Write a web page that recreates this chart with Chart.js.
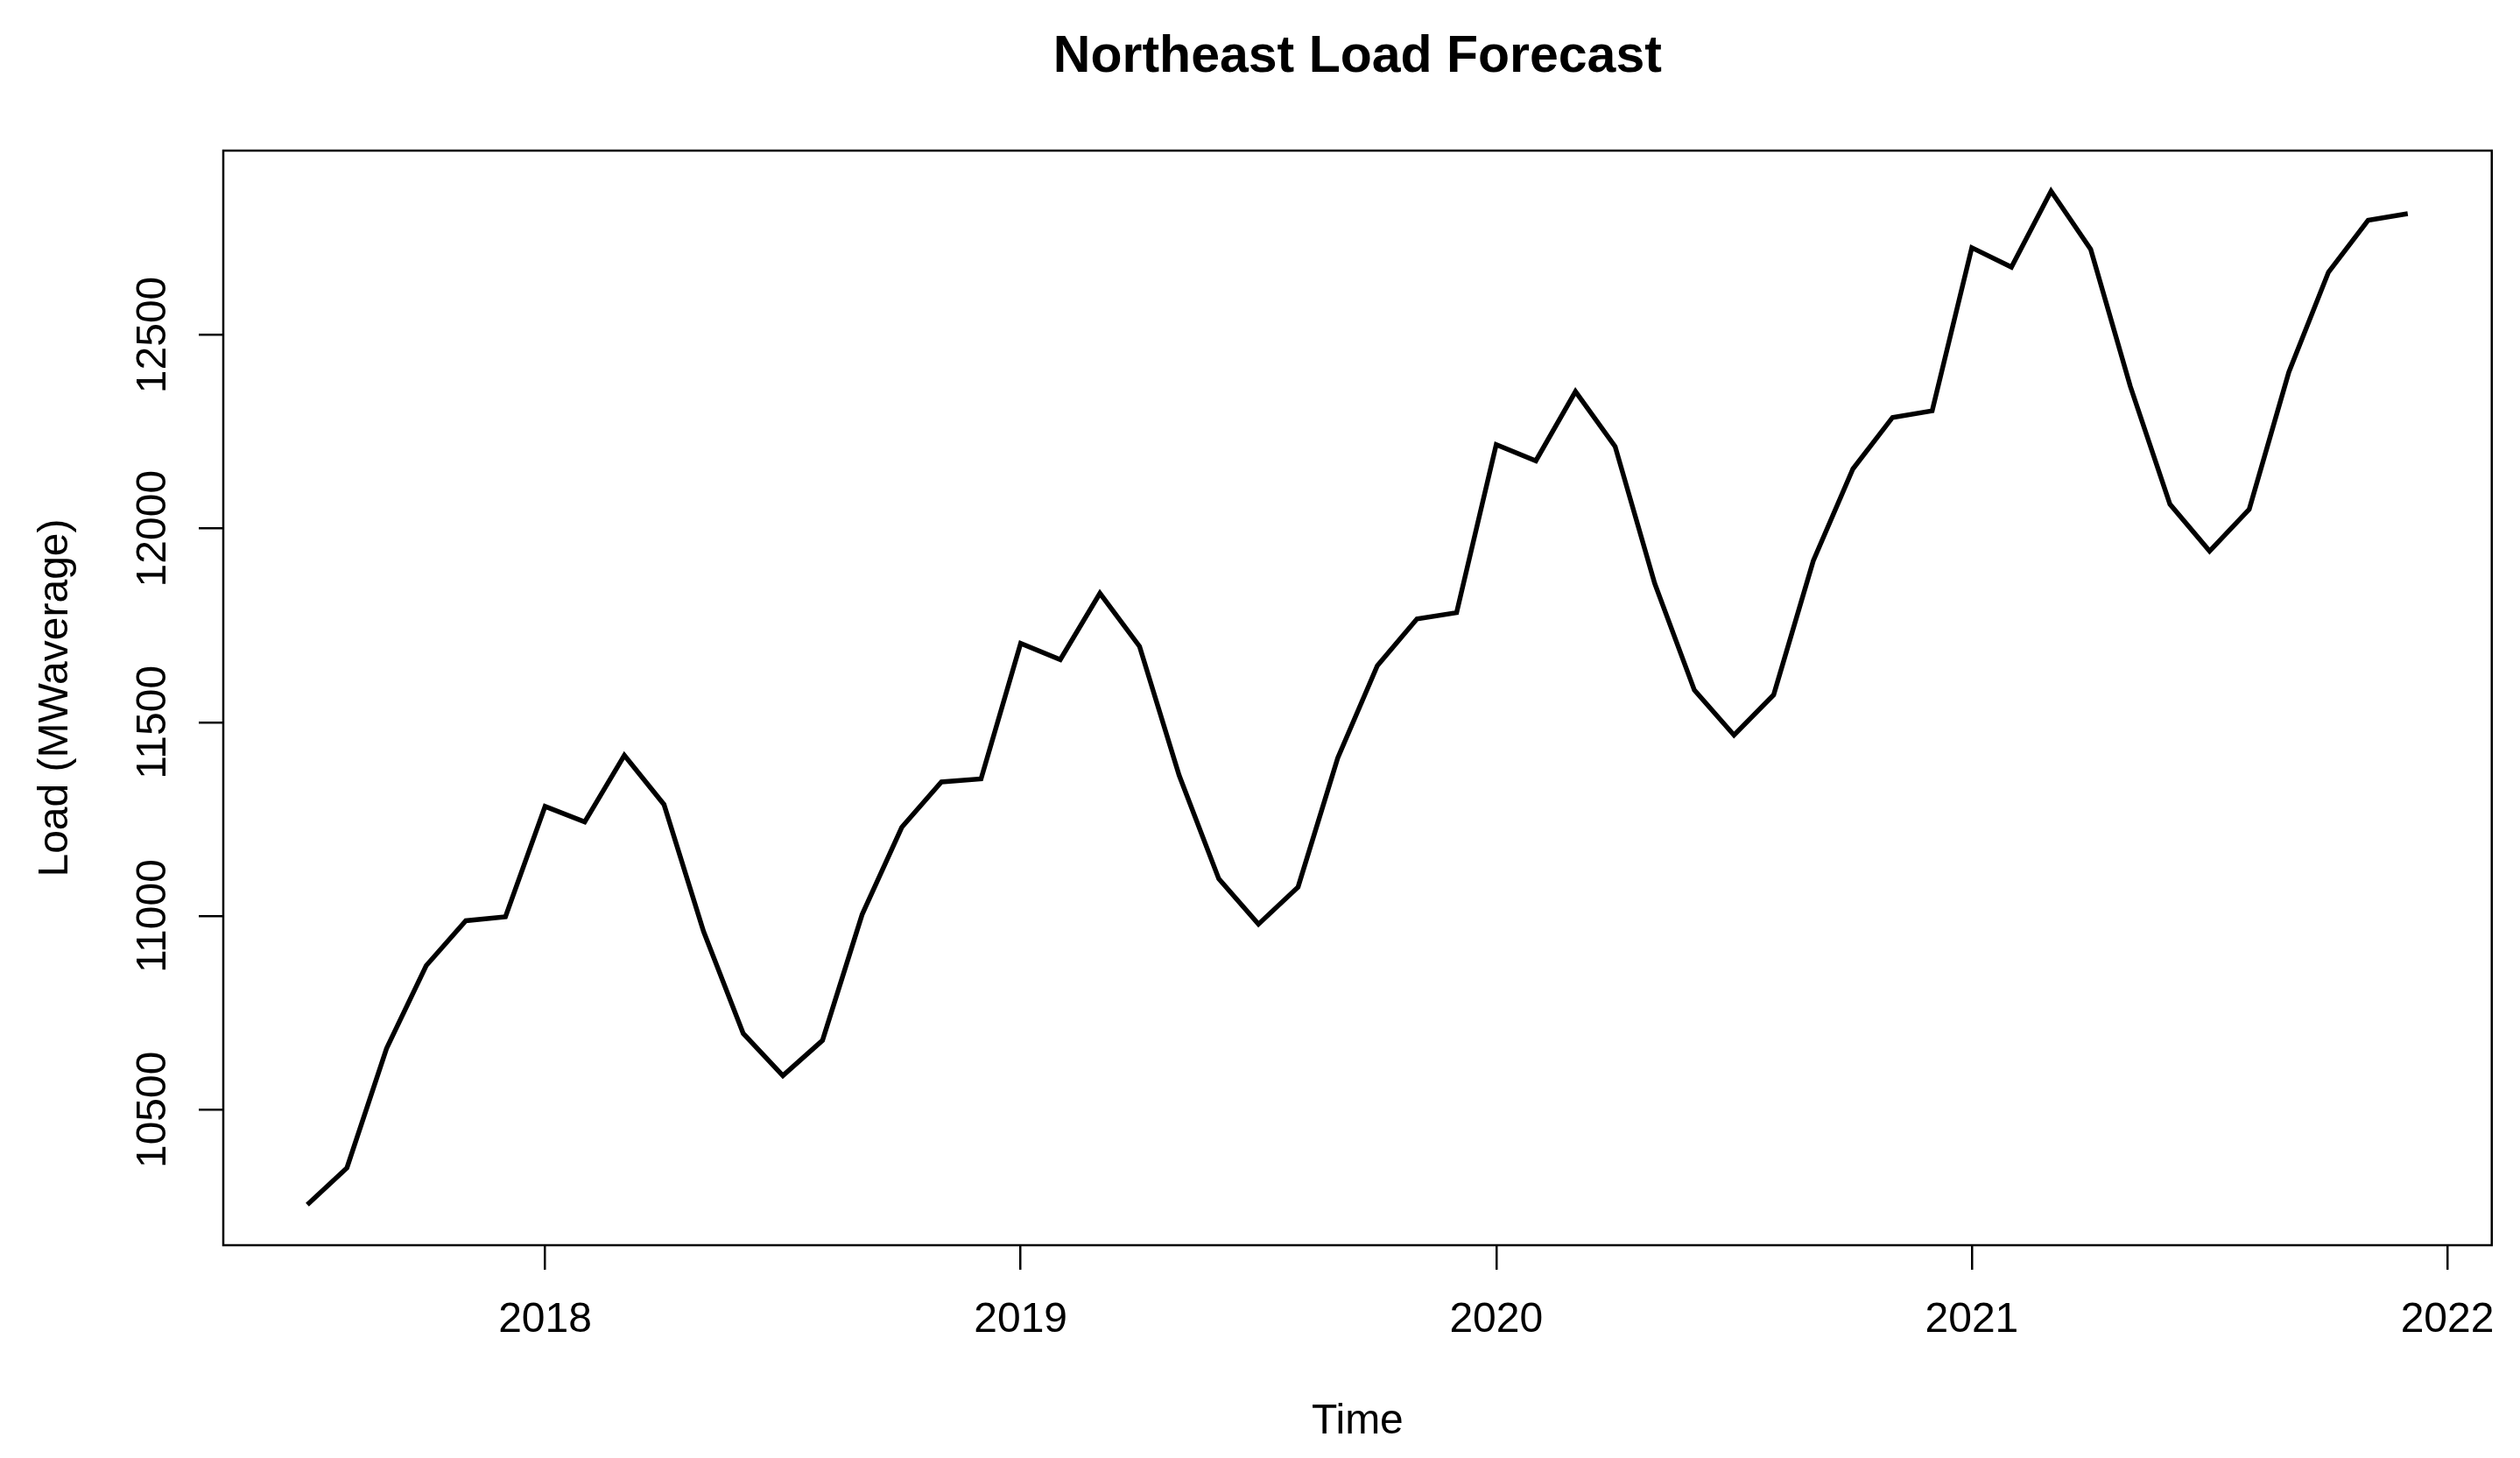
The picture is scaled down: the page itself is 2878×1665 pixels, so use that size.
<!DOCTYPE html>
<html>
<head>
<meta charset="utf-8">
<script src="https://cdn.jsdelivr.net/npm/chart.js@4"></script>
<style>
  html, body { margin: 0; padding: 0; background: #fff; }
  #wrap { width: 2878px; height: 1665px; }
</style>
</head>
<body>
<div id="wrap"><canvas id="load-chart" width="2878" height="1665"></canvas></div>
<script>
// monthly series, starts July 2017
const startYear = 2017;
const startMonth = 7;
const loadValues = [
    10255, 10350, 10658, 10872, 10988, 10998,
    11283, 11243, 11415, 11288, 10960, 10697, 10588, 10679, 11004, 11229, 11346, 11354,
    11704, 11662, 11833, 11696, 11363, 11096, 10979, 11075, 11408, 11646, 11767, 11783,
    12217, 12175, 12354, 12212, 11858, 11583, 11467, 11571, 11917, 12154, 12287, 12304,
    12725, 12675, 12871, 12721, 12367, 12063, 11942, 12050, 12404, 12662, 12796, 12813
];
const xTicks = [2018, 2019, 2020, 2021, 2022];
const yTicks = [10500, 11000, 11500, 12000, 12500];
const chartTitle = 'Northeast Load Forecast';

const FONT = '"Liberation Sans", Arial, sans-serif';

window.onload = function(){

    // time in years like R's ts object
    let points = loadValues.map((v, i) => ({
        x: startYear + (startMonth - 1 + i) / 12,
        y: v
    }));

    // R pads the data range by 4% on each side
    let xMin = points[0].x, xMax = points[points.length - 1].x;
    let yMin = Math.min(...loadValues), yMax = Math.max(...loadValues);
    let xPad = (xMax - xMin) * 0.04, yPad = (yMax - yMin) * 0.04;

    // box around plot, title over plot region, rotated y tick labels (R style)
    const rFrame = {
        id: 'rFrame',
        afterDraw(chart){
            const ctx = chart.ctx;
            const a = chart.chartArea;
            const ys = chart.scales.y;
            ctx.save();
            ctx.strokeStyle = '#000';
            ctx.lineWidth = 2.5;
            ctx.strokeRect(a.left, a.top, a.right - a.left, a.bottom - a.top);

            ctx.fillStyle = '#000';
            ctx.textAlign = 'center';
            ctx.textBaseline = 'middle';

            ctx.font = 'bold 59px ' + FONT;
            ctx.fillText(chartTitle, (a.left + a.right) / 2, 66);

            ctx.font = '48px ' + FONT;
            yTicks.forEach(v => {
                const py = ys.getPixelForValue(v);
                ctx.save();
                ctx.translate(176, py);
                ctx.rotate(-Math.PI / 2);
                ctx.fillText(String(v), 0, 0);
                ctx.restore();
            });
            ctx.restore();
        }
    };

    let loadChart = new Chart(
        document.getElementById('load-chart'),{
            type: 'line',
            data: {
                datasets: [
                    {
                        label: 'Load',
                        data: points,
                        borderColor: '#000',
                        borderWidth: 5.5,
                        pointRadius: 0,
                        tension: 0,
                        fill: false,
                        borderJoinStyle: 'miter'
                    }
                ]
            },
            options: {
                responsive: false,
                devicePixelRatio: 1,
                animation: false,
                layout: {
                    padding: { left: 0, right: 28, top: 172, bottom: 0 }
                },
                plugins: {
                    legend: { display: false },
                    tooltip: { enabled: false },
                    title: { display: false }
                },
                scales: {
                    x: {
                        type: 'linear',
                        min: xMin - xPad,
                        max: xMax + xPad,
                        afterBuildTicks: s => { s.ticks = xTicks.map(v => ({ value: v })); },
                        afterFit: s => { s.height = 243; },
                        border: { display: false },
                        grid: {
                            drawOnChartArea: false,
                            drawTicks: true,
                            tickLength: 28,
                            color: '#000',
                            lineWidth: 2.5
                        },
                        ticks: {
                            color: '#000',
                            padding: 29,
                            maxRotation: 0,
                            autoSkip: false,
                            font: { family: FONT, size: 48 },
                            callback: v => String(v)
                        },
                        title: {
                            display: true,
                            text: 'Time',
                            color: '#000',
                            font: { family: FONT, size: 48, lineHeight: 1.2 },
                            padding: { top: 12, bottom: 12 }
                        }
                    },
                    y: {
                        type: 'linear',
                        min: yMin - yPad,
                        max: yMax + yPad,
                        afterBuildTicks: s => { s.ticks = yTicks.map(v => ({ value: v })); },
                        afterFit: s => { s.width = 255; },
                        border: { display: false },
                        grid: {
                            drawOnChartArea: false,
                            drawTicks: true,
                            tickLength: 28,
                            color: '#000',
                            lineWidth: 2.5
                        },
                        ticks: { display: false },
                        title: {
                            display: true,
                            text: 'Load (MWaverage)',
                            color: '#000',
                            font: { family: FONT, size: 48, lineHeight: 1.2 },
                            padding: { top: 35, bottom: 35 }
                        }
                    }
                }
            },
            plugins: [rFrame]
        }
    );
}
</script>
</body>
</html>
